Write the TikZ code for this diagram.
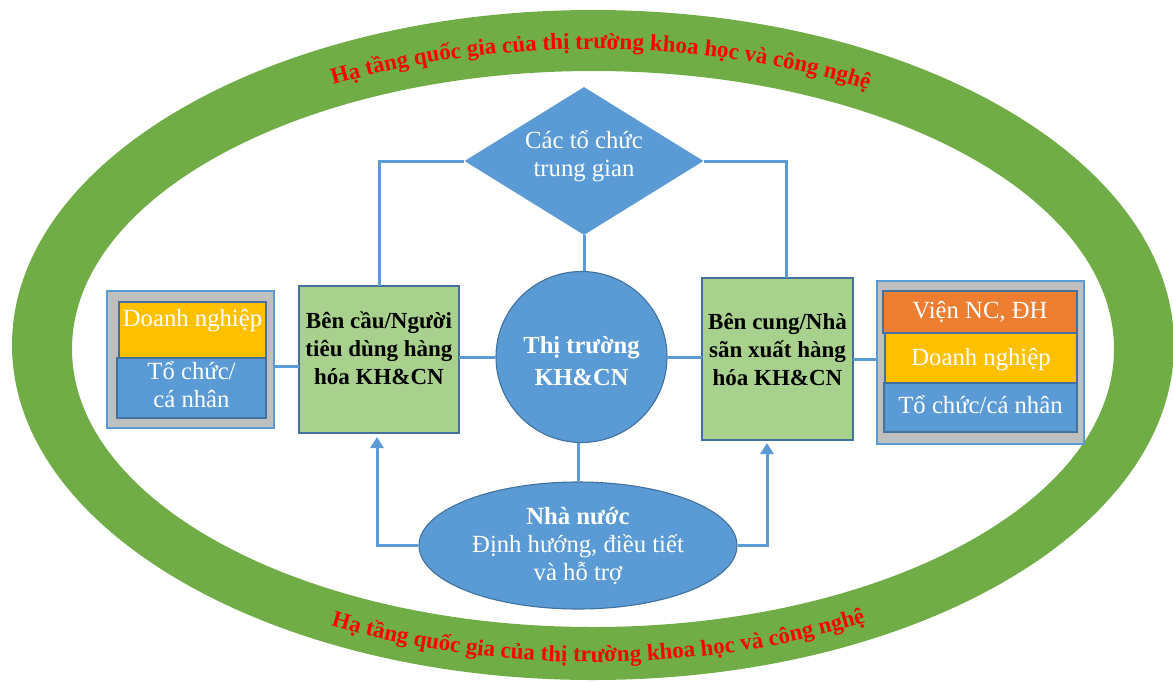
\documentclass[tikz,border=0pt]{standalone}
\usepackage{fontspec}
\setmainfont{Liberation Serif}
\usetikzlibrary{shapes.geometric, arrows.meta, decorations.text, calc}
\definecolor{ringgreen}{HTML}{70AD47}
\definecolor{ringred}{HTML}{FF0000}
\definecolor{mblue}{HTML}{5B9BD5}
\definecolor{bord}{HTML}{41719C}
\definecolor{lgreen}{HTML}{A9D18E}
\definecolor{mgray}{HTML}{BFBFBF}
\definecolor{morange}{HTML}{ED7D31}
\definecolor{myellow}{HTML}{FFC000}
\newcommand\ringfont{\fontsize{23}{23}\selectfont\bfseries\color{ringred}}
\begin{document}
\begin{tikzpicture}[x=1pt,y=-1pt,
  box/.style={draw=bord, line width=1.1pt, inner sep=0pt, outer sep=0pt},
  conn/.style={draw=mblue, line width=3pt},
  arr/.style={conn, -{Triangle[width=13pt,length=11pt]}},
  wt/.style={text=white, font=\fontsize{24.7}{28.5}\selectfont, align=center, inner sep=0pt},
  bt/.style={text=black, font=\fontsize{23}{28}\selectfont\bfseries, align=center, inner sep=0pt},
  ringtext/.style={decorate, decoration={text along path, text align=center, text={|\ringfont|#1}}}
]
\useasboundingbox (0,0) rectangle (1173,681);
% green ring
\fill[ringgreen, even odd rule] (593,345) ellipse [x radius=581, y radius=335]
  (593,349) ellipse [x radius=521, y radius=278];
\path[ringtext={Hạ tầng quốc gia của thị trường khoa học và công nghệ}]
  ($(593,347)+(182:545 and 298)$) arc[start angle=182, end angle=361, x radius=545, y radius=298];
\path[ringtext={Hạ tầng quốc gia của thị trường khoa học và công nghệ}]
  ($(593,347)+(179:560 and 315)$) arc[start angle=179, end angle=-1, x radius=560, y radius=315];

% left panel
\node[box, draw=mblue, fill=mgray, minimum width=167, minimum height=137] (LG) at (190.5,359.5) {};
\node[box, fill=myellow, minimum width=147, minimum height=56] (LY) at (192.5,330) {};
\node[box, fill=mblue, minimum width=149, minimum height=60] (LB) at (191.5,388) {};
\node[wt] (LYt) at (192.5,320.5) {Doanh nghiệp};
\node[wt] (LBt) at (191.5,384.5) {Tổ chức/\\cá nhân};

% right panel
\node[box, draw=mblue, fill=mgray, minimum width=207, minimum height=163] (RG) at (980.5,362.5) {};
\node[box, fill=morange, minimum width=194, minimum height=42] (RO) at (980,312) {};
\node[box, fill=myellow, minimum width=192, minimum height=50] (RY) at (981,358) {};
\node[box, fill=mblue, minimum width=193, minimum height=49] (RB) at (980.5,407.5) {};
\node[wt] (ROt) at (980,312) {Viện NC, ĐH};
\node[wt] (RYt) at (981,360) {Doanh nghiệp};
\node[wt] (RBt) at (980.5,404.5) {Tổ chức/cá nhân};

% green boxes
\node[box, fill=lgreen, minimum width=160, minimum height=147] (L) at (379,359.5) {};
\node[bt] (Lt) at (379,348.5) {Bên cầu/Người\\tiêu dùng hàng\\hóa KH\&CN};
\node[box, fill=lgreen, minimum width=151, minimum height=162] (R) at (777.5,359) {};
\node[bt] (Rt) at (777.5,349.5) {Bên cung/Nhà\\sãn xuất hàng\\hóa KH\&CN};

% centre circle
\node[circle, draw=bord, line width=1.1pt, fill=mblue, minimum size=171, inner sep=0pt] (C) at (581.5,357) {};
\node[wt, font=\fontsize{24.5}{32}\selectfont\bfseries] (Ct) at (581.5,361) {Thị trường\\KH\&CN};

% diamond
\node[diamond, fill=mblue, minimum width=239, minimum height=148, inner sep=0pt] (D) at (584,161) {};
\node[wt] (Dt) at (584,156) {Các tổ chức\\trung gian};

% state ellipse
\node[ellipse, draw=bord, line width=1.1pt, fill=mblue, minimum width=318, minimum height=127, inner sep=0pt] (N) at (578,545.5) {};
\node[wt, font=\fontsize{24.7}{28}\selectfont] (Nt) at (578,546) {\textbf{Nhà nước}\\Định hướng, điều tiết\\và hỗ trợ};

% connectors
\draw[conn] ([yshift=-6.5pt]LG.east) -- ([yshift=-6.5pt]LG.east -| L.west);
\draw[conn] (L.east |- C.west) -- (C.west);
\draw[conn] (C.east) -- (C.east -| R.west);
\draw[conn] (R.east) -- (R.east -| RG.west);
\draw[conn] (D.south) -- (D.south |- C.north);
\draw[conn] (N.north) -- (N.north |- C.south);
\draw[conn] (D.west) -| (L.north);
\draw[conn] (D.east) -| ([xshift=8.5pt]R.north);
\draw[arr, shorten >=4pt] (N.west) -| ([xshift=-2pt]L.south);
\draw[arr, shorten >=3pt] (N.east) -| ([xshift=-10.5pt]R.south);
\end{tikzpicture}
\end{document}
